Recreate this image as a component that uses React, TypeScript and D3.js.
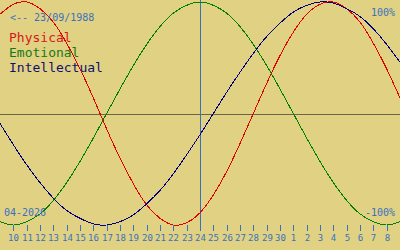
import React from "react";
import * as d3 from "d3";

// Day index (continuous), the today marker and tick labels
const days = [9, 10, 11, 12, 13, 14, 15, 16, 17, 18, 19, 20, 21, 22, 23, 24, 25, 26, 27, 28, 29, 30, 31, 32, 33, 34, 35, 36, 37, 38, 39];
const physical = [89, 98, 100, 94, 82, 63, 40, 14, -14, -40, -63, -82, -94, -100, -98, -89, -73, -52, -27, 0, 27, 52, 73, 89, 98, 100, 94, 82, 63, 40, 14];
const emotional = [-97, -100, -97, -90, -78, -62, -43, -22, 0, 22, 43, 62, 78, 90, 97, 100, 97, 90, 78, 62, 43, 22, 0, -22, -43, -62, -78, -90, -97, -100, -97];
const intellectual = [-9, -28, -46, -62, -76, -87, -94, -99, -100, -97, -91, -81, -69, -54, -37, -19, 0, 19, 37, 54, 69, 81, 91, 97, 100, 99, 94, 87, 76, 62, 46];
const tickDays = [10, 11, 12, 13, 14, 15, 16, 17, 18, 19, 20, 21, 22, 23, 24, 25, 26, 27, 28, 29, 30, 31, 32, 33, 34, 35, 36, 37, 38];
const tickLabels = ["10", "11", "12", "13", "14", "15", "16", "17", "18", "19", "20", "21", "22", "23", "24", "25", "26", "27", "28", "29", "30", "1", "2", "3", "4", "5", "6", "7", "8"];
const today = 24;
const seriesNames = ["Physical", "Emotional", "Intellectual"];
const seriesColors = ["#e00000", "#008000", "#000080"];
const textColors = ["#d81818", "#187818", "#101070"];

const W = 400;
const H = 250;
const BG = "#e0d282";
const BLUE = "#3a70c0";
const FONT = "'DejaVu Sans Mono', 'Liberation Mono', monospace";

export default function App() {
  const x = d3.scaleLinear().domain([9, 39]).range([0, 400]);
  const y = d3.scaleLinear().domain([-100, 100]).range([225, 2]);
  const line = d3
    .line<number>()
    .x((_, i) => x(days[i]))
    .y((v) => y(v))
    .curve(d3.curveNatural);
  const all = [physical, emotional, intellectual];
  const y0 = Math.round(y(0)) + 0.5;
  const xt = Math.round(x(today)) + 0.5;

  return (
    <svg
      width={W}
      height={H}
      style={{ position: "fixed", left: 0, top: 0, display: "block" }}
    >
      <rect x={0} y={0} width={W} height={H} fill={BG} />
      {/* zero line */}
      <line x1={0} x2={W} y1={y0} y2={y0} stroke="#6a6448" strokeWidth={1} />
      {/* today line */}
      <line x1={xt} x2={xt} y1={0} y2={231} stroke={BLUE} strokeWidth={1} />
      {/* curves */}
      {all.map((s, k) => (
        <path
          key={k}
          d={line(s) || ""}
          fill="none"
          stroke={seriesColors[k]}
          strokeWidth={1}
          shapeRendering="crispEdges"
        />
      ))}
      {/* ticks */}
      {tickDays.map((d, i) => {
        const tx = Math.round(x(d)) + 0.5;
        return (
          <g key={d}>
            <line x1={tx} x2={tx} y1={225} y2={231} stroke={BLUE} strokeWidth={1} />
            <text
              x={tx}
              y={241}
              textAnchor="middle"
              fontFamily={FONT}
              fontSize={9}
              fill={BLUE}
            >
              {tickLabels[i]}
            </text>
          </g>
        );
      })}
      {/* labels */}
      <text x={10} y={21} fontFamily={FONT} fontSize={10} fill={BLUE}>
        {"<-- 23/09/1988"}
      </text>
      {seriesNames.map((n, k) => (
        <text
          key={n}
          x={9}
          y={42 + k * 15}
          fontFamily={FONT}
          fontSize={13}
          fill={textColors[k]}
        >
          {n}
        </text>
      ))}
      <text x={395} y={16} textAnchor="end" fontFamily={FONT} fontSize={10} fill={BLUE}>
        100%
      </text>
      <text x={395} y={216} textAnchor="end" fontFamily={FONT} fontSize={10} fill={BLUE}>
        -100%
      </text>
      <text x={4} y={216} fontFamily={FONT} fontSize={10} fill={BLUE}>
        04-2026
      </text>
    </svg>
  );
}
